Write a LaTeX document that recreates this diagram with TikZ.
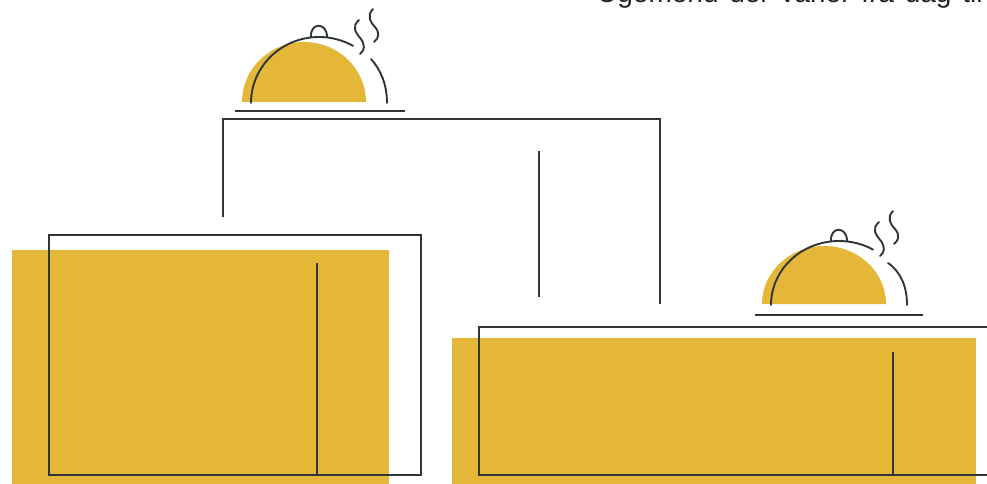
\documentclass[tikz,border=0pt]{standalone}
\usepackage{fontspec}
\setmainfont{Liberation Sans}
\usetikzlibrary{positioning}
\definecolor{cgold}{HTML}{E4B739}
\definecolor{cink}{HTML}{2F3638}
\definecolor{ctext}{HTML}{222222}
\tikzset{
  ink/.style={draw=cink, line width=1.6pt},
  lid/.style={ink, line width=1.9pt, line cap=round},
  gold/.style={fill=cgold, draw=none},
  heading/.style={font=\fontsize{28}{28}\selectfont, text=ctext, anchor=base west, inner sep=0pt},
  pics/cloche/.style={code={
    % food, lid, knob and steam; the value flattens the dome
    \fill[gold] (-9,0) arc[start angle=180, end angle=360, x radius=62, y radius={60-#1}] -- cycle;
    \draw[lid] (0,1) arc[start angle=180, end angle=300, x radius=68, y radius={66-#1}];
    \draw[lid] ({120-1.5*#1},{-43+#1}) .. controls (130,-32) and (136,-17) .. (136,1);
    \draw[lid] (60,{-65+#1}) .. controls (59,{-80+#1}) and (76,{-80+#1}) .. (76,{-65+#1});
    \draw[lid] (108,-82) .. controls (100,-75) and (105,-69) .. (110,-63) .. controls (114,-57) and (114,-52) .. (109,-48);
    \draw[lid] (122,-93) .. controls (115,-86) and (120,-79) .. (124,-75) .. controls (129,-69) and (128,-64) .. (123,-60);
  }},
  pics/cloche/.default=0,
}

\begin{document}
\begin{tikzpicture}[x=1pt, y=-1pt]
  \useasboundingbox (0,0) rectangle (987,484);
  \clip (0,0) rectangle (987,484);
  % heading runs off the page
  \node[heading] (menu) at (597,3) {Ugemenu\hspace{3pt} der\hspace{3pt} varier\hspace{3pt} fra\hspace{3pt} dag\hspace{3pt} til};
  % gold panels
  \fill[gold] (12,250) rectangle (389,484);
  \fill[gold] (452,338) rectangle (976,484);
  % cloches and plates
  \pic (top) at (251,102) {cloche};
  \pic (low) at (771,304) {cloche=2};
  \coordinate (plateA) at (235,111);
  \coordinate (plateB) at (405,111);
  \coordinate (plateC) at (755,315);
  \coordinate (plateD) at (923,315);
  \draw[ink] (plateA) -- (plateB);
  \draw[ink] (plateC) -- (plateD);
  % bracket between the boxes
  \coordinate (leftfoot) at (223,217);
  \coordinate (rightfoot) at (660,304);
  \draw[ink] (leftfoot) |- (rightfoot |- 0,119) -- (rightfoot);
  \coordinate (midtop) at (539,151);
  \coordinate (midfoot) at (539,297);
  \draw[ink] (midtop) -- (midfoot);
  % left box
  \draw[ink] (49,235) rectangle (421,475);
  \coordinate (leftrule) at (317,263);
  \coordinate (leftbase) at (317,475);
  \draw[ink] (leftrule) -- (leftbase);
  % right box
  \draw[ink] (987,327) -- (479,327) -- (479,475) -- (987,475);
  \coordinate (rightrule) at (893,352);
  \coordinate (rightbase) at (893,475);
  \draw[ink] (rightrule) -- (rightbase);
\end{tikzpicture}
\end{document}
